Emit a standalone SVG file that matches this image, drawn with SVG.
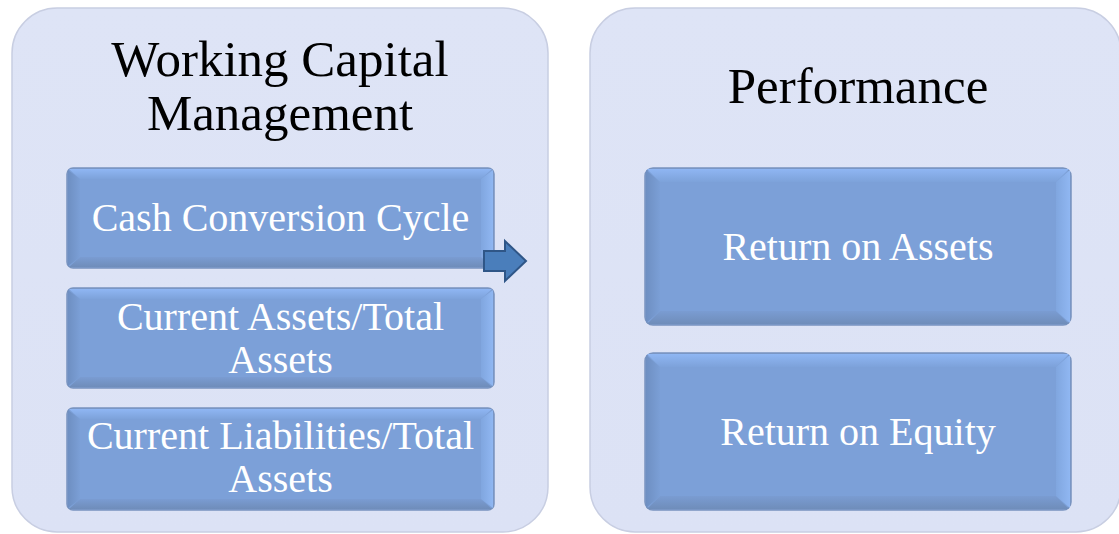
<svg xmlns="http://www.w3.org/2000/svg" width="1119" height="534" viewBox="0 0 1119 534">
  <defs>
    <linearGradient id="gTop" x1="0" y1="0" x2="0" y2="1">
      <stop offset="0" stop-color="#8FB6F3"/>
      <stop offset="1" stop-color="#7DA2DA"/>
    </linearGradient>
    <linearGradient id="gBot" x1="0" y1="0" x2="0" y2="1">
      <stop offset="0" stop-color="#7A9CD2"/>
      <stop offset="1" stop-color="#6F8DBA"/>
    </linearGradient>
    <linearGradient id="gLeft" x1="0" y1="0" x2="1" y2="0">
      <stop offset="0" stop-color="#6E8FC2"/>
      <stop offset="1" stop-color="#7B9FD6"/>
    </linearGradient>
    <linearGradient id="gRight" x1="0" y1="0" x2="1" y2="0">
      <stop offset="0" stop-color="#80A6DF"/>
      <stop offset="1" stop-color="#90B7F2"/>
    </linearGradient>
    <linearGradient id="gPanel" x1="0" y1="0" x2="0" y2="1">
      <stop offset="0" stop-color="#DEE4F6"/>
      <stop offset="1" stop-color="#DCE2F5"/>
    </linearGradient>
  </defs>
  <style>
    .panel { fill: url(#gPanel); stroke: #C8CEE2; stroke-width: 1.5; }
    .base { fill: #7CA0D8; stroke: #7893BF; stroke-width: 1.5; }
    .bt { fill: url(#gTop); }
    .bb { fill: url(#gBot); }
    .bl { fill: url(#gLeft); }
    .br { fill: url(#gRight); }
    .title { font-family: "Liberation Serif", "Times New Roman", serif; font-size: 51px; fill: #000000; text-anchor: middle; }
    .label { font-family: "Liberation Serif", "Times New Roman", serif; font-size: 40px; fill: #FFFFFF; text-anchor: middle; }
    .arrow { fill: #4A7EBB; stroke: #2F5687; stroke-width: 2; stroke-linejoin: miter; }
  </style>
  <rect width="1119" height="534" fill="#FFFFFF"/>

  <g id="panel-wcm">
    <rect class="panel" x="12" y="8" width="536" height="524" rx="45" ry="45"/>
    <text class="title" x="280" y="76">Working Capital</text>
    <text class="title" x="280" y="130">Management</text>
  </g>

  <g id="panel-performance">
    <rect class="panel" x="590" y="8" width="531" height="524" rx="45" ry="45"/>
    <text class="title" x="858" y="103">Performance</text>
  </g>

  <g id="node-ccc">
    <rect class="base" x="67" y="168" width="427" height="100" rx="6"/>
    <polygon class="bt" points="69,169 492,169 481,179 80,179"/>
    <polygon class="bb" points="69,267 492,267 481,257 80,257"/>
    <polygon class="bl" points="68,170 80,179 80,257 68,266"/>
    <polygon class="br" points="493,170 481,179 481,257 493,266"/>
    <rect x="80" y="179" width="401" height="78" fill="#7CA0D8"/>
    <text class="label" x="280.5" y="231">Cash Conversion Cycle</text>
  </g>

  <g id="node-cata">
    <rect class="base" x="67" y="288" width="427" height="100" rx="6"/>
    <polygon class="bt" points="69,289 492,289 481,299 80,299"/>
    <polygon class="bb" points="69,387 492,387 481,377 80,377"/>
    <polygon class="bl" points="68,290 80,299 80,377 68,386"/>
    <polygon class="br" points="493,290 481,299 481,377 493,386"/>
    <rect x="80" y="299" width="401" height="78" fill="#7CA0D8"/>
    <text class="label" x="280.5" y="330">Current Assets/Total</text>
    <text class="label" x="280.5" y="373">Assets</text>
  </g>

  <g id="node-clta">
    <rect class="base" x="67" y="408" width="427" height="102" rx="6"/>
    <polygon class="bt" points="69,409 492,409 481,419 80,419"/>
    <polygon class="bb" points="69,509 492,509 481,499 80,499"/>
    <polygon class="bl" points="68,410 80,419 80,499 68,508"/>
    <polygon class="br" points="493,410 481,419 481,499 493,508"/>
    <rect x="80" y="419" width="401" height="80" fill="#7CA0D8"/>
    <text class="label" x="280.5" y="449">Current Liabilities/Total</text>
    <text class="label" x="280.5" y="492">Assets</text>
  </g>

  <g id="node-roa">
    <rect class="base" x="645" y="168" width="426" height="157" rx="8"/>
    <polygon class="bt" points="647,169 1069,169 1056,182 660,182"/>
    <polygon class="bb" points="647,324 1069,324 1056,311 660,311"/>
    <polygon class="bl" points="646,170 660,182 660,311 646,323"/>
    <polygon class="br" points="1070,170 1056,182 1056,311 1070,323"/>
    <rect x="660" y="182" width="396" height="129" fill="#7CA0D8"/>
    <text class="label" x="858" y="260">Return on Assets</text>
  </g>

  <g id="node-roe">
    <rect class="base" x="645" y="353" width="426" height="157" rx="8"/>
    <polygon class="bt" points="647,354 1069,354 1056,367 660,367"/>
    <polygon class="bb" points="647,509 1069,509 1056,496 660,496"/>
    <polygon class="bl" points="646,355 660,367 660,496 646,508"/>
    <polygon class="br" points="1070,355 1056,367 1056,496 1070,508"/>
    <rect x="660" y="367" width="396" height="129" fill="#7CA0D8"/>
    <text class="label" x="858" y="445">Return on Equity</text>
  </g>

  <g id="connectors">
    <polygon class="arrow" points="484,251 505,251 505,241 526,261 505,281 505,271 484,271"/>
  </g>
</svg>
